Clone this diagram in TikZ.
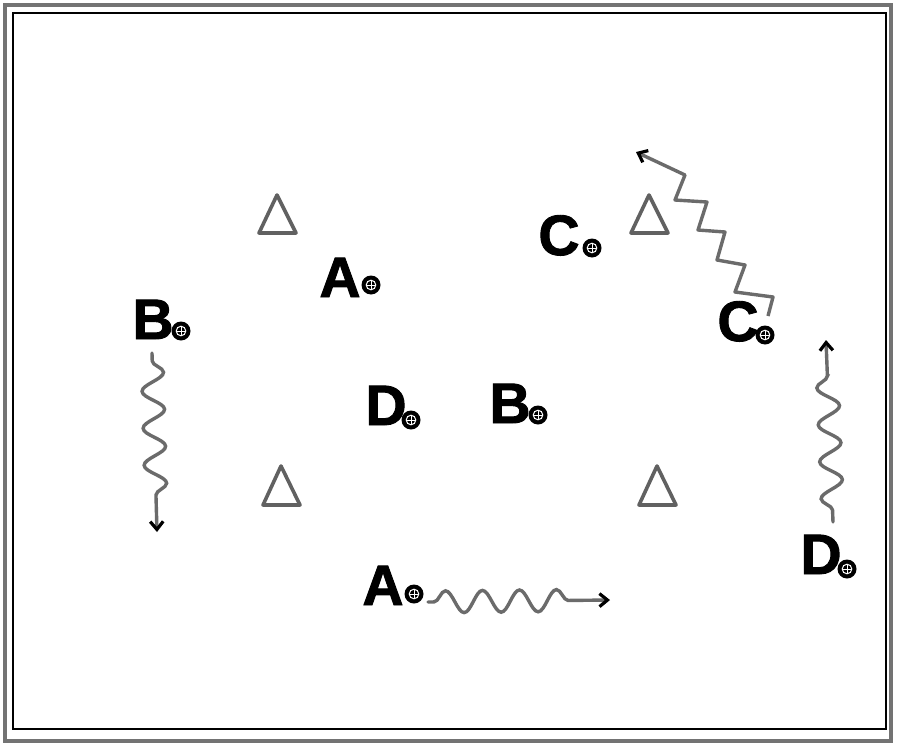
\documentclass[tikz,border=0pt]{standalone}
\usepackage{fontspec}
\setmainfont{Liberation Sans}
\newfontfamily\heavyfont[BoldFeatures={FakeBold=1.6}]{Liberation Sans}
\usetikzlibrary{decorations.pathmorphing,arrows.meta}
\begin{document}
\begin{tikzpicture}[x=1pt,y=-1pt,
  letter/.style={font=\heavyfont\fontsize{57}{57}\selectfont\bfseries, inner sep=0pt, anchor=base},
  player/.style={circle, fill=black, minimum size=19pt, inner sep=0pt,
    path picture={
      \draw[white, line width=1pt] (path picture bounding box.center) circle (4.8pt);
      \draw[white, line width=0.9pt] ([xshift=-4.8pt]path picture bounding box.center) -- ([xshift=4.8pt]path picture bounding box.center);
      \draw[white, line width=0.9pt] ([yshift=-4.8pt]path picture bounding box.center) -- ([yshift=4.8pt]path picture bounding box.center);
    }},
  cone/.style={draw=black!62, line width=3.6pt, line join=round},
  wave/.style={draw=black!58, line width=3.4pt, line cap=round, decorate,
    decoration={snake, segment length=37pt, amplitude=11pt}},
  tip/.style={-{Straight Barb[black, length=8pt, width=13pt, line width=3.2pt]}},
  zig/.style={draw=black!58, line width=3.4pt, line join=round}
]
\useasboundingbox (0,0) rectangle (900,744);
\fill[white] (0,0) rectangle (900,744);
% frame
\draw[black!55, line width=4pt] (4.5,4.5) rectangle (891,741);
\draw[black, line width=2pt] (12.5,13) rectangle (886,729);

% cones
\draw[cone] (277,195) -- (259,233) -- (296,233) -- cycle;
\draw[cone] (649,195) -- (631,233) -- (668,233) -- cycle;
\draw[cone] (281,466) -- (263,505) -- (300,505) -- cycle;
\draw[cone] (657,466) -- (639,505) -- (676,505) -- cycle;

% players
\node[letter] (a1) at (340,297) {A};
\node[player] (a1p) at (371,285) {};
\node[letter] (b1) at (153,339) {B};
\node[player] (b1p) at (181,331) {};
\node[letter] (c1) at (559,255) {C};
\node[player] (c1p) at (592,248) {};
\node[letter] (c2) at (738,341) {C};
\node[player] (c2p) at (765,335) {};
\node[letter] (d1) at (386,425) {D};
\node[player] (d1p) at (411,420) {};
\node[letter] (b2) at (510,423) {B};
\node[player] (b2p) at (538,415) {};
\node[letter] (d2) at (821,574) {D};
\node[player] (d2p) at (847,569) {};
\node[letter] (a2) at (383,605) {A};
\node[player] (a2p) at (414,594) {};

% movement coordinates
\coordinate (bs) at (152,353);
\coordinate (be) at (157,532);
\coordinate (as) at (428,602);
\coordinate (ae) at (610,600);
\coordinate (ds) at (833,522);
\coordinate (de) at (826,340);
\coordinate (cs) at (768,316);
\coordinate (ce) at (636,152);

% dribbles
\draw[wave, tip, decoration={pre length=8pt, post length=26pt}] (bs) -- (be);
\draw[wave, tip, decoration={pre length=6pt, post length=30pt}] (as) -- (ae);
\draw[wave, tip, decoration={pre length=12pt, post length=32pt}] (ds) -- (de);
\draw[zig, tip] (cs) -- (773,297) -- (735,292) -- (745,265) -- (717,260) -- (725,232)
  -- (698,230) -- (707,202) -- (675,200) -- (685,175) -- (ce);
\end{tikzpicture}
\end{document}
